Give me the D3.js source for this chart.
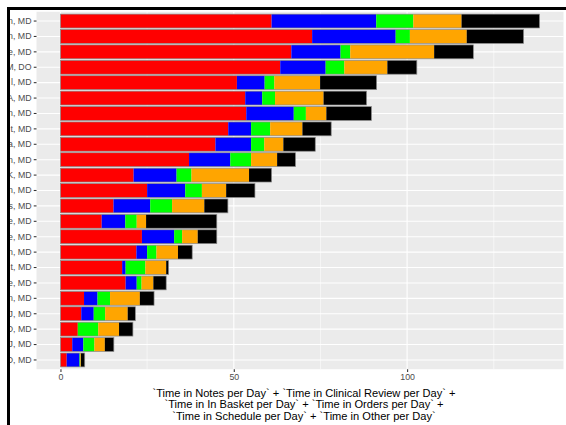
<!DOCTYPE html>
<html>
<head>
<meta charset="utf-8">
<script src="https://cdn.jsdelivr.net/npm/d3@7"></script>
<style>
  body { margin: 0; background: #fff; }
  svg { display: block; }
</style>
</head>
<body>
<svg id="chart"></svg>
<script>
// provider names are cropped in the source image; only the tail is visible
const providers = [
  'n, MD', 'n, MD', 'e, MD', 'M, DO', 'l, MD', 'A, MD', 'n, MD', 't, MD',
  'a, MD', 'n, MD', 'K, MD', 'n, MD', 's, MD', 'e, MD', 'e, MD', 'n, MD',
  't, MD', 'e, MD', 'n, MD', 'J, MD', 'D, MD', 'J, MD', 'D, MD'
];
const notes          = [60.9, 72.6, 66.6, 63.4, 50.9, 53.3, 53.6, 48.4, 44.7, 37.1, 21.1, 25.0, 15.3, 11.9, 23.5, 21.9, 17.8, 18.8, 6.8, 6.0, 5.0, 3.4, 1.8];
const clinicalReview = [30.2, 24.1, 14.2, 13.1, 8.0, 4.9, 13.7, 6.6, 10.3, 11.9, 12.4, 11.0, 10.6, 6.8, 9.3, 3.1, 1.0, 3.2, 3.9, 3.6, 0.0, 3.2, 3.7];
const inBasket       = [10.7, 4.1, 2.8, 5.4, 2.8, 3.7, 3.5, 5.5, 3.8, 6.0, 4.3, 4.8, 6.3, 3.3, 2.3, 2.7, 5.7, 1.4, 3.6, 3.3, 5.9, 3.2, 0.2];
const orders         = [13.9, 16.4, 24.2, 12.4, 13.2, 14.0, 5.9, 9.3, 5.5, 7.5, 16.6, 7.0, 9.3, 2.7, 4.5, 6.2, 6.0, 3.4, 8.6, 6.5, 6.0, 3.0, 0.2];
const scheduleOther  = [22.5, 16.4, 11.3, 8.5, 16.3, 12.4, 13.0, 8.3, 9.2, 5.3, 6.5, 8.3, 6.8, 20.4, 5.5, 4.1, 0.7, 3.7, 4.1, 2.2, 4.0, 2.6, 1.1];
const seriesKeys   = ['notes', 'clinicalReview', 'inBasket', 'orders', 'scheduleOther'];
const seriesColors = ['#FF0000', '#0000FF', '#00FF00', '#FFA500', '#000000'];
const xTicks = [0, 50, 100];
const xMinor = [25, 75, 125];
const titleLines = [
  '`Time in Notes per Day` + `Time in Clinical Review per Day` +',
  '`Time in In Basket per Day` + `Time in Orders per Day` +',
  '`Time in Schedule per Day` + `Time in Other per Day`'
];

const width = 566;
const height = 425;
const panel = { left: 36.5, right: 563.5, top: 11.8, bottom: 369.2 };
const font = '"Liberation Sans", Arial, sans-serif';

const rows = providers.map((p, i) => ({
  id: i,
  name: p,
  notes: notes[i],
  clinicalReview: clinicalReview[i],
  inBasket: inBasket[i],
  orders: orders[i],
  scheduleOther: scheduleOther[i]
}));
rows.forEach(d => { d.total = d3.sum(seriesKeys, k => d[k]); });

const layers = d3.stack().keys(seriesKeys)(rows);
const maxTotal = d3.max(rows, d => d.total);

const xScale = d3.scaleLinear()
  .domain([-0.05 * maxTotal, 1.05 * maxTotal])
  .range([panel.left, panel.right]);
const yScale = d3.scaleBand()
  .domain(rows.map(d => d.id))
  .range([panel.top, panel.bottom])
  .paddingInner(0.1)
  .paddingOuter(0.15);
const color = d3.scaleOrdinal().domain(seriesKeys).range(seriesColors);

const svg = d3.select('#chart')
  .attr('width', width)
  .attr('height', height);

svg.append('rect')
  .attr('width', width).attr('height', height)
  .attr('fill', '#fff');

svg.append('defs').append('clipPath')
  .attr('id', 'crop')
  .append('rect')
  .attr('x', 10).attr('y', 10)
  .attr('width', width - 10).attr('height', height - 10);

const g = svg.append('g').attr('clip-path', 'url(#crop)');

// panel background + grid
g.append('rect')
  .attr('x', panel.left).attr('y', panel.top)
  .attr('width', panel.right - panel.left)
  .attr('height', panel.bottom - panel.top)
  .attr('fill', '#EBEBEB');

g.selectAll('.minor')
  .data(xMinor)
  .enter().append('line')
    .attr('class', 'minor')
    .attr('x1', d => xScale(d)).attr('x2', d => xScale(d))
    .attr('y1', panel.top).attr('y2', panel.bottom)
    .attr('stroke', '#fff').attr('stroke-width', 0.55);

g.selectAll('.major')
  .data(xTicks)
  .enter().append('line')
    .attr('class', 'major')
    .attr('x1', d => xScale(d)).attr('x2', d => xScale(d))
    .attr('y1', panel.top).attr('y2', panel.bottom)
    .attr('stroke', '#fff').attr('stroke-width', 1.1);

g.selectAll('.hgrid')
  .data(rows)
  .enter().append('line')
    .attr('class', 'hgrid')
    .attr('x1', panel.left).attr('x2', panel.right)
    .attr('y1', d => yScale(d.id) + yScale.bandwidth() / 2)
    .attr('y2', d => yScale(d.id) + yScale.bandwidth() / 2)
    .attr('stroke', '#fff').attr('stroke-width', 1.1);

// stacked bars
g.selectAll('.layer')
  .data(layers)
  .enter().append('g')
    .attr('class', 'layer')
    .attr('fill', d => color(d.key))
  .selectAll('rect')
  .data(d => d)
  .enter().append('rect')
    .attr('x', d => xScale(d[0]))
    .attr('y', d => yScale(d.data.id))
    .attr('width', d => Math.max(0, xScale(d[1]) - xScale(d[0])))
    .attr('height', yScale.bandwidth());

g.selectAll('.outline')
  .data(rows)
  .enter().append('rect')
    .attr('class', 'outline')
    .attr('x', xScale(0))
    .attr('y', d => yScale(d.id))
    .attr('width', d => xScale(d.total) - xScale(0))
    .attr('height', yScale.bandwidth())
    .attr('fill', 'none')
    .attr('stroke', '#8a8a8a')
    .attr('stroke-width', 0.7);

// axes
const yAxis = g.append('g')
  .attr('transform', `translate(${panel.left}, 0)`)
  .call(d3.axisLeft(yScale).tickSize(2.75).tickPadding(2.2)
    .tickFormat(id => rows[id].name));

const xAxis = g.append('g')
  .attr('transform', `translate(0, ${panel.bottom})`)
  .call(d3.axisBottom(xScale).tickValues(xTicks).tickSize(2.75).tickPadding(2.2));

[yAxis, xAxis].forEach(ax => {
  ax.select('.domain').remove();
  ax.selectAll('.tick line').attr('stroke', '#333').attr('stroke-width', 1.07);
  ax.selectAll('.tick text')
    .attr('fill', '#4D4D4D')
    .style('font-family', font)
    .style('font-size', '8.8px');
});

// axis title
g.append('text')
  .attr('text-anchor', 'middle')
  .style('font-family', font)
  .style('font-size', '11.1px')
  .attr('fill', '#000')
  .selectAll('tspan')
  .data(titleLines)
  .enter().append('tspan')
    .attr('x', (panel.left + panel.right) / 2 + 4)
    .attr('y', (d, i) => 396.5 + i * 11.6)
    .text(d => d);

// black frame left/top (cropped screenshot edge)
svg.append('rect').attr('x', 7).attr('y', 7).attr('width', width - 7).attr('height', 3).attr('fill', '#000');
svg.append('rect').attr('x', 7).attr('y', 7).attr('width', 3).attr('height', height - 7).attr('fill', '#000');
</script>
</body>
</html>
